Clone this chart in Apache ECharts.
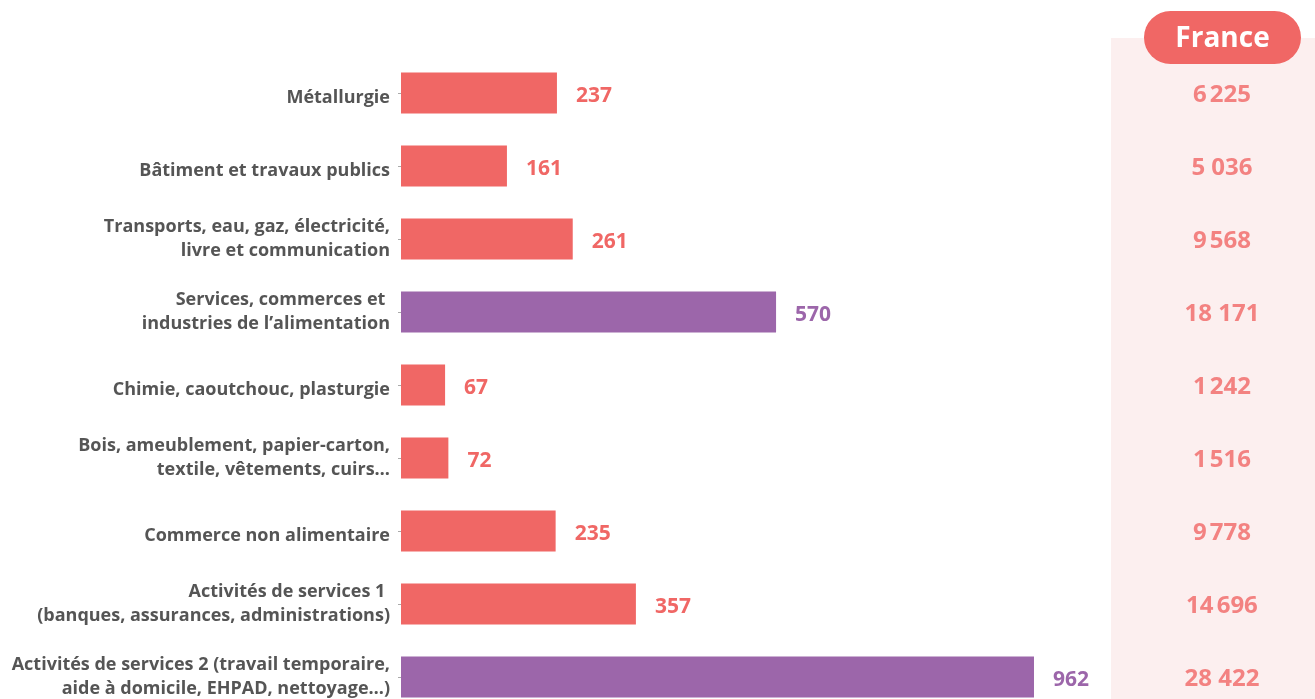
<!DOCTYPE html>
<html><head><meta charset="utf-8">
<script src="https://cdn.jsdelivr.net/npm/echarts@6/dist/echarts.min.js"></script>
<style>html,body{margin:0;padding:0;background:#fff}#c{width:1315px;height:699px}</style>
</head><body><div id="c"></div>
<script>
const categories = [
  "Métallurgie",
  "Bâtiment et travaux publics",
  "Transports, eau, gaz, électricité,\nlivre et communication",
  "Services, commerces et \nindustries de l’alimentation",
  "Chimie, caoutchouc, plasturgie",
  "Bois, ameublement, papier-carton,\ntextile, vêtements, cuirs…",
  "Commerce non alimentaire",
  "Activités de services 1 \n(banques, assurances, administrations)",
  "Activités de services 2 (travail temporaire,\naide à domicile, EHPAD, nettoyage…)"
];
const regionValues = [237, 161, 261, 570, 67, 72, 235, 357, 962];
const highlighted = [false, false, false, true, false, false, false, false, true];
const franceLabels = ["6\u202F225", "5 036", "9\u202F568", "18 171", "1\u202F242", "1\u202F516", "9\u202F778", "14\u202F696", "28 422"];

const RED = '#f06765', PURPLE = '#9c66aa', GREY = '#555555', PANEL = '#fcefef';
const FONT = 'Open Sans';

const chart = echarts.init(document.getElementById('c'));
const gridTop = 56.5, bandH = 73, gridH = bandH * categories.length;
chart.setOption({
  animation: false,
  textStyle: {fontFamily: FONT},
  graphic: [
    {type: 'rect', z: -10, shape: {x: 1111, y: 38, width: 210, height: 700}, style: {fill: PANEL}},
    {type: 'rect', z: 10, shape: {x: 1144, y: 11, width: 157, height: 53, r: 26.5}, style: {fill: RED}},
    {type: 'text', z: 11, x: 1222.5, y: 39, style: {text: 'France', fill: '#fff', font: 'bold 28px ' + FONT, textAlign: 'center', textVerticalAlign: 'middle'}}
  ],
  grid: [
    {left: 401, width: 658, top: gridTop, height: gridH, outerBoundsMode: 'none', containLabel: false},
    {left: 1111, width: 204, top: gridTop, height: gridH, outerBoundsMode: 'none', containLabel: false}
  ],
  xAxis: [
    {gridIndex: 0, type: 'value', min: 0, max: 1000, show: false},
    {gridIndex: 1, type: 'value', min: 0, max: 1, show: false}
  ],
  yAxis: [
    {gridIndex: 0, type: 'category', data: categories, inverse: true,
     axisLine: {show: false},
     axisTick: {show: true, alignWithLabel: true, length: 3, lineStyle: {color: '#aaa'}},
     axisLabel: {color: GREY, fontFamily: FONT, fontWeight: 'bold', fontSize: 18, lineHeight: 24, align: 'right', margin: 11,
       formatter: v => v.indexOf('\n') < 0 ? '{s|' + v + '}' : v,
       rich: {s: {color: GREY, fontFamily: FONT, fontWeight: 'bold', fontSize: 18, lineHeight: 24, padding: [10, 0, 0, 0]}}}},
    {gridIndex: 1, type: 'category', data: categories, inverse: true, show: false}
  ],
  series: [
    {type: 'bar', xAxisIndex: 0, yAxisIndex: 0, barWidth: 41,
     data: regionValues.map((v, i) => ({value: v, itemStyle: {color: highlighted[i] ? PURPLE : RED},
       label: {color: highlighted[i] ? PURPLE : RED}})),
     label: {show: true, position: 'right', distance: 19, offset: [0, 3], fontFamily: FONT, fontWeight: 'bold', fontSize: 21}},
    {type: 'scatter', xAxisIndex: 1, yAxisIndex: 1, symbolSize: 0, silent: true,
     data: franceLabels.map((t, i) => [0.544, i]),
     label: {show: true, position: 'inside', offset: [0, 2], formatter: p => franceLabels[p.dataIndex],
       color: RED, fontFamily: FONT, fontWeight: 'bold', fontSize: 24}}
  ]
});
</script></body></html>
